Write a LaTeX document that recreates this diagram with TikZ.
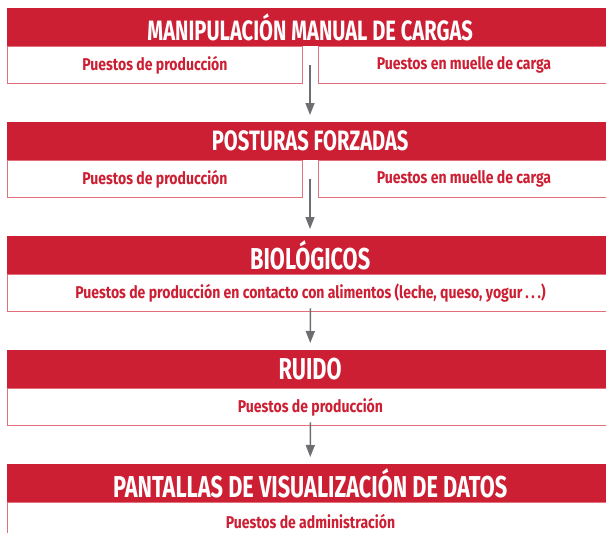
\documentclass[tikz,border=0pt]{standalone}
\usepackage{fontspec}
\newfontfamily\condfont{Fira Sans}[FakeStretch=0.72]
\newfontfamily\subfont{Fira Sans}[FakeStretch=0.82]
\usetikzlibrary{arrows.meta}
\definecolor{rojo}{RGB}{204,31,51}
\definecolor{rosa}{RGB}{226,112,124}
\definecolor{gris}{RGB}{109,110,113}
\tikzset{
	cabecera/.style={anchor=north west, fill=rojo, text=white, minimum width=606pt, minimum height=38pt, inner sep=0pt, font=\condfont\bfseries\fontsize{28}{28}\selectfont},
	grande/.style={font=\condfont\bfseries\fontsize{30.2}{30.2}\selectfont},
	puesto/.style={anchor=north west, draw=rosa, line width=0.9pt, text=rojo, minimum height=37pt, inner sep=0pt, font=\subfont\bfseries\fontsize{17.1}{17.1}\selectfont},
	flecha/.style={draw=gris, line width=1.6pt, -{Triangle[width=9pt,length=12pt]}, shorten >=7pt}
}

\begin{document}
\begin{tikzpicture}[x=1pt,y=-1pt]
		\clip (0,0) rectangle (606,533);
		% cabeceras
		\node[cabecera] (h1) at (7,8) {MANIPULACIÓN MANUAL DE CARGAS};
		\node[cabecera] (h2) at (7,122) {POSTURAS FORZADAS};
		\node[cabecera, grande] (h3) at (7,236) {BIOLÓGICOS};
		\node[cabecera, grande] (h4) at (7,350) {RUIDO};
		\node[cabecera, grande] (h5) at (7,464) {PANTALLAS DE VISUALIZACIÓN DE DATOS};
		% puestos
		\node[puesto, minimum width=295pt] (s1a) at (h1.south west) {Puestos de producción};
		\node[puesto, minimum width=291pt] (s1b) at ([xshift=311pt]h1.south west) {Puestos en muelle de carga};
		\node[puesto, minimum width=295pt] (s2a) at (h2.south west) {Puestos de producción};
		\node[puesto, minimum width=291pt] (s2b) at ([xshift=311pt]h2.south west) {Puestos en muelle de carga};
		\node[puesto, minimum width=606pt] (s3) at (h3.south west) {Puestos de producción en contacto con alimentos (leche, queso, yogur\,.\,.\,.)};
		\node[puesto, minimum width=606pt] (s4) at (h4.south west) {Puestos de producción};
		\node[puesto, minimum width=606pt] (s5) at (h5.south west) {Puestos de administración};
		% flechas
		\coordinate (g1) at (310,65);
		\coordinate (g2) at (310,179);
		\draw[flecha] (g1) -- (g1 |- h2.north);
		\draw[flecha] (g2) -- (g2 |- h3.north);
		\draw[flecha] ([yshift=4pt]s3.south) -- (h4.north);
		\draw[flecha] ([yshift=4pt]s4.south) -- (h5.north);
\end{tikzpicture}
\end{document}
